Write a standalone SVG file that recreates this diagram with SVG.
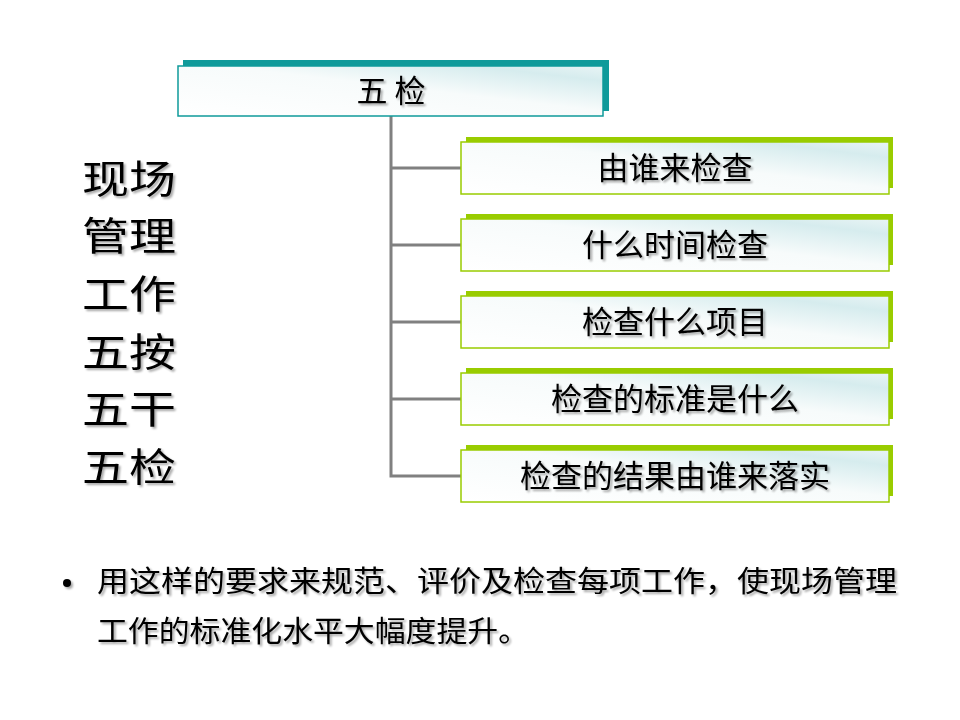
<svg xmlns="http://www.w3.org/2000/svg" width="960" height="720" viewBox="0 0 960 720">
<defs>
<linearGradient id="bg" x1="0" y1="1" x2="1" y2="0">
<stop offset="0" stop-color="#ffffff"/>
<stop offset="0.55" stop-color="#f7fbfb"/>
<stop offset="0.85" stop-color="#d6ecee"/>
<stop offset="1" stop-color="#e8f4f5"/>
</linearGradient>
<filter id="ts" x="-10%" y="-10%" width="130%" height="130%">
<feGaussianBlur in="SourceAlpha" stdDeviation="1"/>
<feOffset dx="2" dy="2" result="b"/>
<feComponentTransfer><feFuncA type="linear" slope="0.35"/></feComponentTransfer>
<feMerge><feMergeNode/><feMergeNode in="SourceGraphic"/></feMerge>
</filter>
</defs>
<style>
.t{font-family:"Noto Sans CJK SC","Noto Sans CJK JP",sans-serif;fill:#000;}
.lab{font-size:31px;text-anchor:middle;}
.big{font-size:39px;font-weight:400;}
.body{font-size:29px;}
.back-teal{fill:#0f9a9a;}
.back-green{fill:#99cc00;}
.front-teal{fill:url(#bg);stroke:#0f9a9a;stroke-width:1.5;}
.front-green{fill:url(#bg);stroke:#99cc00;stroke-width:1.5;}
.conn{fill:none;stroke:#808080;stroke-width:3;}
</style>
<rect width="960" height="720" fill="#ffffff"/>
<g id="connectors">
<path class="conn" d="M391,116 V476 H461"/>
<path class="conn" d="M391,168 H461"/>
<path class="conn" d="M391,245 H461"/>
<path class="conn" d="M391,322 H461"/>
<path class="conn" d="M391,399 H461"/>
</g>
<g id="root">
<rect class="back-teal" x="183" y="60" width="426" height="51"/>
<rect class="front-teal" x="178" y="66" width="425" height="50"/>
<text class="t lab" x="391" y="102" filter="url(#ts)">五 检</text>
</g>
<g id="n1">
<rect class="back-green" x="466" y="137" width="427" height="51"/>
<rect class="front-green" x="461" y="142" width="428" height="52"/>
<text class="t lab" x="675" y="179" filter="url(#ts)">由谁来检查</text>
</g>
<g id="n2">
<rect class="back-green" x="466" y="214" width="427" height="51"/>
<rect class="front-green" x="461" y="219" width="428" height="52"/>
<text class="t lab" x="675" y="256" filter="url(#ts)">什么时间检查</text>
</g>
<g id="n3">
<rect class="back-green" x="466" y="291" width="427" height="51"/>
<rect class="front-green" x="461" y="296" width="428" height="52"/>
<text class="t lab" x="675" y="333" filter="url(#ts)">检查什么项目</text>
</g>
<g id="n4">
<rect class="back-green" x="466" y="368" width="427" height="51"/>
<rect class="front-green" x="461" y="373" width="428" height="52"/>
<text class="t lab" x="675" y="410" filter="url(#ts)">检查的标准是什么</text>
</g>
<g id="n5">
<rect class="back-green" x="466" y="445" width="427" height="51"/>
<rect class="front-green" x="461" y="450" width="428" height="52"/>
<text class="t lab" x="675" y="487" filter="url(#ts)">检查的结果由谁来落实</text>
</g>
<g id="side-title" filter="url(#ts)">
<text class="t big" x="82" y="193" textLength="94" lengthAdjust="spacingAndGlyphs">现场</text>
<text class="t big" x="82" y="250" textLength="94" lengthAdjust="spacingAndGlyphs">管理</text>
<text class="t big" x="82" y="308" textLength="94" lengthAdjust="spacingAndGlyphs">工作</text>
<text class="t big" x="82" y="366" textLength="94" lengthAdjust="spacingAndGlyphs">五按</text>
<text class="t big" x="82" y="423" textLength="94" lengthAdjust="spacingAndGlyphs">五干</text>
<text class="t big" x="82" y="481" textLength="94" lengthAdjust="spacingAndGlyphs">五检</text>
</g>
<g id="bullet" filter="url(#ts)">
<circle cx="67" cy="583" r="4" fill="#000"/>
<text class="t body" x="97" y="592" textLength="800" lengthAdjust="spacingAndGlyphs">用这样的要求来规范、评价及检查每项工作，使现场管理</text>
<text class="t body" x="97" y="642" textLength="432" lengthAdjust="spacingAndGlyphs">工作的标准化水平大幅度提升。</text>
</g>
</svg>
